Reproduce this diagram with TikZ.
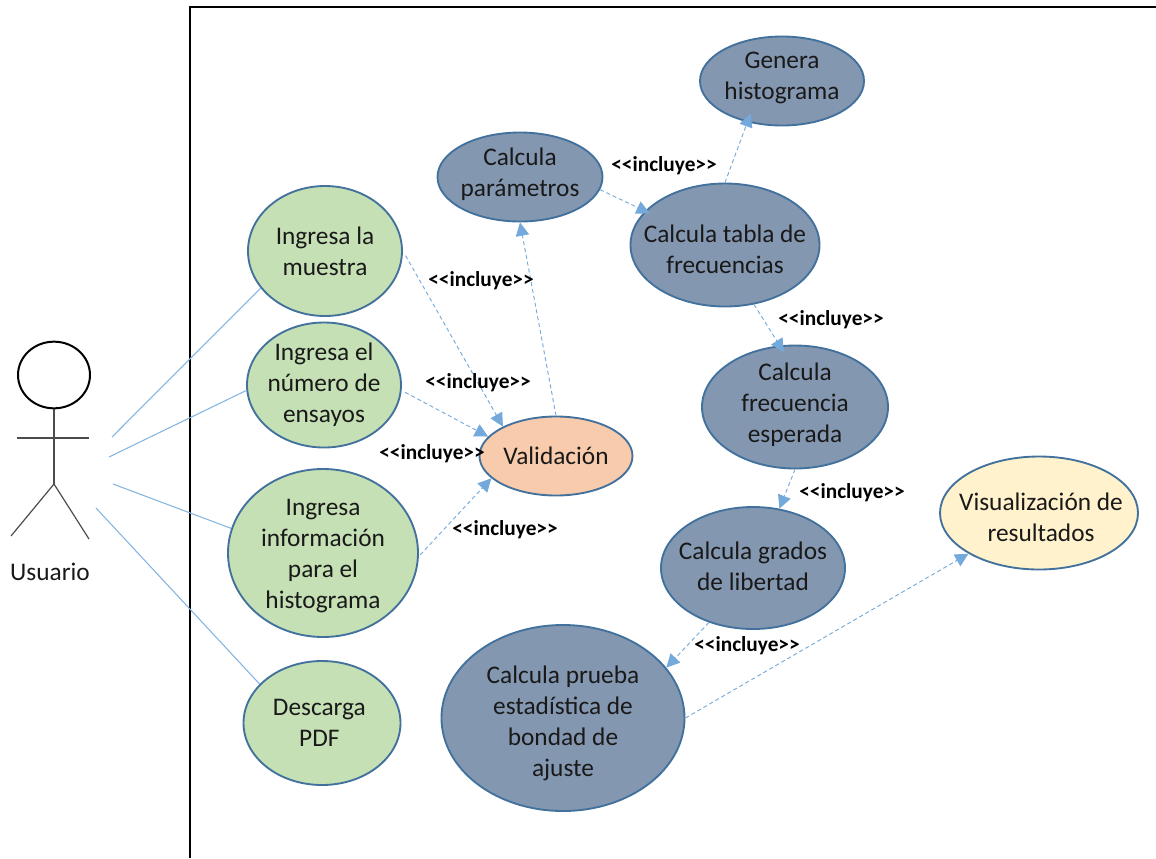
\documentclass[tikz,border=0pt]{standalone}
\usepackage{fontspec}
\setmainfont{Carlito}
\usepackage{xcolor}
\usetikzlibrary{arrows.meta,shapes.geometric}
\definecolor{bordeuso}{HTML}{41719C}
\definecolor{lineauso}{HTML}{5B9BD5}
\definecolor{usoverde}{HTML}{C5E0B4}
\definecolor{usoazul}{HTML}{8497B0}
\definecolor{usonaranja}{HTML}{F8CBAD}
\definecolor{usoamarillo}{HTML}{FFF2CC}
\newcommand{\incluye}{<{}<incluye>{}>}
\tikzset{
  % texto dentro de las elipses
  every label/.append style={font=\fontsize{19}{23.3}\selectfont, align=center, text=black!90},
  % elipse base
  caso/.style={
    ellipse,
    draw=bordeuso,
    line width=1.4pt,
    inner sep=0pt
  },
  casoverde/.style={caso, fill=usoverde},
  casoazul/.style={caso, fill=usoazul},
  casonaranja/.style={caso, fill=usonaranja},
  casoamarillo/.style={caso, fill=usoamarillo},
  % asociaciones del actor
  assoc/.style={lineauso!75, line width=0.8pt},
  % flechas punteadas
  incl/.style={-{Triangle[length=10pt,width=10pt]}, dashed, dash pattern=on 3pt off 2.2pt, line width=0.7pt, lineauso!85},
  incllab/.style={font=\fontsize{16}{18}\selectfont\bfseries, text=black, inner sep=0pt},
  % figura del actor
  palo/.style={black!70, line width=0.9pt},
}

\begin{document}
\begin{tikzpicture}[x=0.75pt,y=-0.75pt]
        \useasboundingbox (0,0) rectangle (1156,858);

        % Marco del sistema
        \draw[line width=1.5pt] (190,858) -- (190,7) -- (1156,7);

        % Actor
        \node[ellipse, draw=black, line width=1.5pt, inner sep=0pt, minimum width=54pt, minimum height=50pt] (cabeza) at (54,375) {};
        \coordinate (cadera) at (54,484);
        \coordinate (manoi) at (17,438);
        \coordinate (manod) at (89,438);
        \coordinate (piei) at (11,536);
        \coordinate (pied) at (89,539);
        \draw[palo] (cabeza) -- (cadera);
        \draw[palo] (manoi) -- (manod);
        \draw[palo] (piei) -- (cadera) -- (pied);
        \node[font=\fontsize{19}{22}\selectfont, text=black!90, inner sep=0pt] (usuario) at (50,572) {Usuario};

        % Casos del usuario
        \node[casoverde, minimum width=115.5pt, minimum height=97.5pt, label={center:Ingresa la\\muestra}] (muestra) at (325,251) {};
        \node[casoverde, minimum width=115.5pt, minimum height=93.75pt, label={center:Ingresa el\\número de\\ensayos}] (numero) at (324,385) {};
        \node[casoverde, minimum width=142.5pt, minimum height=126pt, label={[yshift=-2.2pt]center:Ingresa\\información\\para el\\histograma}] (info) at (323,553) {};
        \node[casoverde, minimum width=117.75pt, minimum height=93pt, label={[xshift=-2pt]center:Descarga\\PDF}] (descarga) at (322,723) {};

        % Validacion
        \node[casonaranja, minimum width=114.75pt, minimum height=59.25pt, label={center:Validación}] (validacion) at (556,456) {};

        % Casos de calculo
        \node[casoazul, minimum width=123pt, minimum height=66.75pt, label={[yshift=2pt]center:Genera\\histograma}] (genera) at (782,81) {};
        \node[casoazul, minimum width=123.75pt, minimum height=66.75pt, label={[yshift=2pt]center:Calcula\\parámetros}] (parametros) at (520,177) {};
        \node[casoazul, minimum width=141.75pt, minimum height=92.25pt, label={[yshift=-3pt]center:Calcula tabla de\\frecuencias}] (tabla) at (725,245) {};
        \node[casoazul, minimum width=139.5pt, minimum height=92.25pt, label={[yshift=1.5pt]center:Calcula\\frecuencia\\esperada}] (frecuencia) at (795,407) {};
        \node[casoazul, minimum width=138pt, minimum height=91.5pt, label={[yshift=1.5pt]center:Calcula grados\\de libertad}] (grados) at (753,568) {};
        \node[casoazul, minimum width=182.25pt, minimum height=139.5pt, label={[yshift=-3.8pt]center:Calcula prueba\\estadística de\\bondad de\\ajuste}] (prueba) at (563,718) {};
        \node[casoamarillo, minimum width=148.5pt, minimum height=84.75pt, label={[yshift=-3pt,xshift=1.5pt]center:Visualización de\\resultados}] (visual) at (1039,513) {};

        % Asociaciones
        \coordinate (ua) at (112,437);
        \coordinate (ub) at (109,457);
        \coordinate (uc) at (113,484);
        \coordinate (ud) at (96,508);
        \draw[assoc] (ua) -- (muestra.210);
        \draw[assoc] (ub) -- (numero.184);
        \draw[assoc] (uc) -- (info.165);
        \draw[assoc] (ud) -- (descarga.148);

        % Inclusiones
        \draw[incl, shorten <=4pt] (muestra.east) -- (validacion.151);
        \draw[incl, shorten <=3pt] (numero.-4) -- (validacion.164);
        \draw[incl, shorten <=1.5pt] (info.-2) -- (validacion.199);
        \draw[incl] (validacion.north) -- (parametros.south);
        \draw[incl, shorten >=-4pt] (parametros.-9) -- (tabla.157);
        \draw[incl, shorten >=-7pt] (tabla.north) -- (genera.230);
        \draw[incl, shorten >=-6pt] (tabla.-64) -- (frecuencia.104);
        \draw[incl] (frecuencia.south) -- (grados.66);
        \draw[incl] (grados.231) -- (prueba.26);
        \draw[incl] (prueba.east) -- (visual.210);

        % Rotulos
        \node[incllab] (rotuloa) at (664,166) {\incluye};
        \node[incllab] (rotulob) at (481,281) {\incluye};
        \node[incllab] (rotuloc) at (478,383) {\incluye};
        \node[incllab] (rotulod) at (432,454) {\incluye};
        \node[incllab] (rotuloe) at (505,530) {\incluye};
        \node[incllab] (rotulof) at (831,320) {\incluye};
        \node[incllab] (rotulog) at (852,493) {\incluye};
        \node[incllab] (rotuloh) at (747,646) {\incluye};
\end{tikzpicture}
\end{document}
